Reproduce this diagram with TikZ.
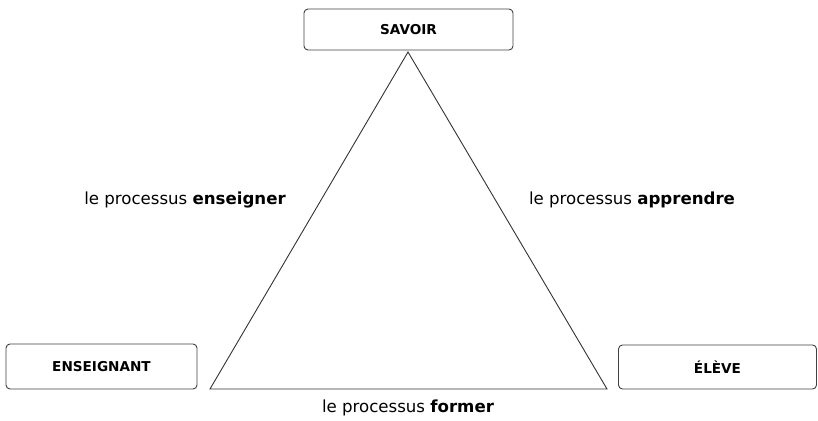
\documentclass[tikz,border=0pt]{standalone}
\usepackage{fontspec}
\setmainfont{DejaVu Sans}
\usetikzlibrary{positioning}

\tikzset{
    pole/.style={draw=black!75, line width=0.9pt, rounded corners=4pt,
        font=\fontsize{13.6}{15}\selectfont\bfseries, inner sep=0pt},
    processus/.style={font=\fontsize{16.6}{18}\selectfont, inner sep=0pt}
}

\begin{document}
\begin{tikzpicture}[x=1pt,y=-1pt]

    \useasboundingbox (0,0) rectangle (818,420);

    % --- Poles ---
    % the three boxes at the corners of the triangle
    \node[pole, minimum width=209pt, minimum height=41pt] (savoir) at (408.5,29.5) {SAVOIR};
    \node[pole, minimum width=191pt, minimum height=45pt] (enseignant) at (101.5,366.5) {ENSEIGNANT};
    \node[pole, minimum width=198pt, minimum height=44pt] (eleve) at (717.5,367) {ÉLÈVE};

    % --- Coordinates ---
    % Vertices of the triangle
    \coordinate (S) at (408,52);   % top vertex, under SAVOIR
    \coordinate (E) at (210,389);  % bottom-left vertex
    \coordinate (L) at (607,389);  % bottom-right vertex

    % --- Lines ---
    \draw[black!80, line width=0.9pt] (S) -- (E) -- (L) -- cycle;

    % --- Labels ---
    \node[processus] (enseigner) at (185,200) {le processus \textbf{enseigner}};
    \node[processus] (apprendre) at (632,200) {le processus \textbf{apprendre}};
    \node[processus] (former) at (408,408) {le processus \textbf{former}};

\end{tikzpicture}
\end{document}
